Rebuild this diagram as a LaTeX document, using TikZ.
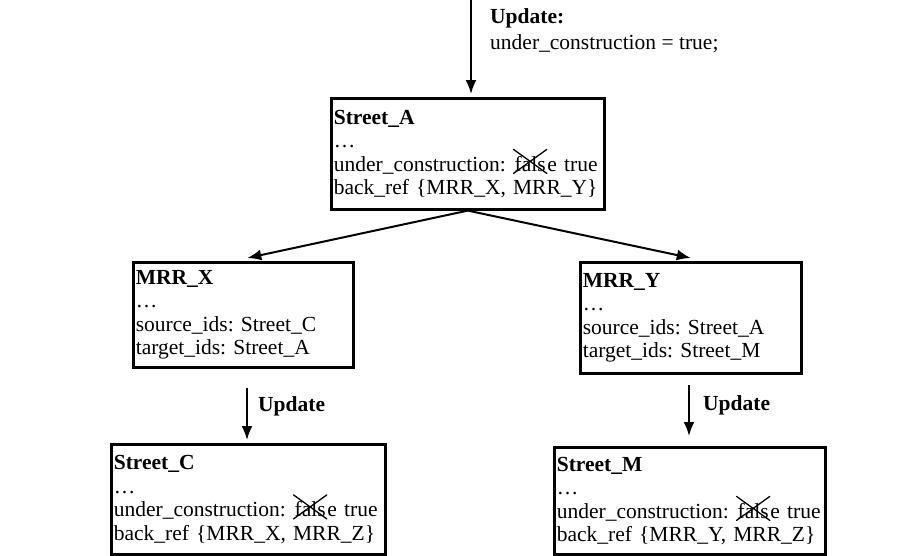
\documentclass[tikz,border=0pt]{standalone}
\usepackage{fontspec}
\setmainfont{Liberation Serif}
\usetikzlibrary{arrows.meta,calc}
\newcommand\crossout[1]{\tikz[baseline=(w.base)]{\node[inner sep=0pt,outer sep=0pt,draw=none,minimum width=0pt,minimum height=0pt,text width=,anchor=base] (w) {#1};\draw[line width=1.3pt,line cap=round] ($(w.south west)+(-0.05em,-0.1em)$) -- ($(w.north east)+(0.05em,0.3em)$) ($(w.north west)+(-0.05em,0.3em)$) -- ($(w.south east)+(0.05em,-0.1em)$);}}
\begin{document}
\frenchspacing
\begin{tikzpicture}[x=1pt,y=-1pt,
  box/.style={draw,line width=2.6pt,anchor=north west,inner xsep=2.5pt,inner ysep=3pt,align=left,font=\fontsize{21.5}{23.5}\selectfont\frenchspacing},
  arr/.style={line width=2pt,-{Latex[length=14pt,width=11pt]}},
  lab/.style={font=\fontsize{21.5}{23.5}\selectfont\bfseries,anchor=west,inner sep=0pt}]
\useasboundingbox (0,0) rectangle (921,555);
\node[box,minimum width=273pt,minimum height=111pt,text width=268pt] (SA) at (330,97)
 {\textbf{Street\_A}\\\dots\\under\_construction: \crossout{fals}e true\\back\_ref \{MRR\_X, MRR\_Y\}};
\node[box,minimum width=220pt,minimum height=105pt,text width=215pt] (MX) at (132,261)
 {\textbf{MRR\_X}\\\dots\\source\_ids: Street\_C\\target\_ids: Street\_A};
\node[box,minimum width=221pt,minimum height=111pt,text width=216pt] (MY) at (579,261)
 {\textbf{MRR\_Y}\\\dots\\source\_ids: Street\_A\\target\_ids: Street\_M};
\node[box,minimum width=274pt,minimum height=110pt,text width=269pt] (SC) at (110,443)
 {\textbf{Street\_C}\\\dots\\under\_construction: \crossout{fals}e true\\back\_ref \{MRR\_X, MRR\_Z\}};
\node[box,minimum width=271pt,minimum height=107pt,text width=266pt] (SM) at (553,446)
 {\textbf{Street\_M}\\\dots\\under\_construction: \crossout{fals}e true\\back\_ref \{MRR\_Y, MRR\_Z\}};
% top arrow
\coordinate (t0) at (471,0);
\coordinate (t1) at (471,94);
\draw[arr] (t0) -- (t1);
\node[lab] (uplab) at (490,18) {Update:};
\node[anchor=west,inner sep=0pt,font=\fontsize{21.5}{23.5}\selectfont] (uptxt) at (490,44) {under\_construction = true;};
% branch arrows
\draw[arr] (SA.south) -- ([xshift=4pt,yshift=3pt]MX.north);
\draw[arr] (SA.south) -- ([yshift=3pt]MY.north);
% update arrows
\coordinate (c0) at (247,388);
\coordinate (c1) at (247,440);
\draw[arr] (c0) -- (c1);
\node[lab] (ul1) at (258,406) {Update};
\coordinate (m0) at (689,385);
\coordinate (m1) at (689,436);
\draw[arr] (m0) -- (m1);
\node[lab] (ul2) at (703,405) {Update};
\end{tikzpicture}
\end{document}
